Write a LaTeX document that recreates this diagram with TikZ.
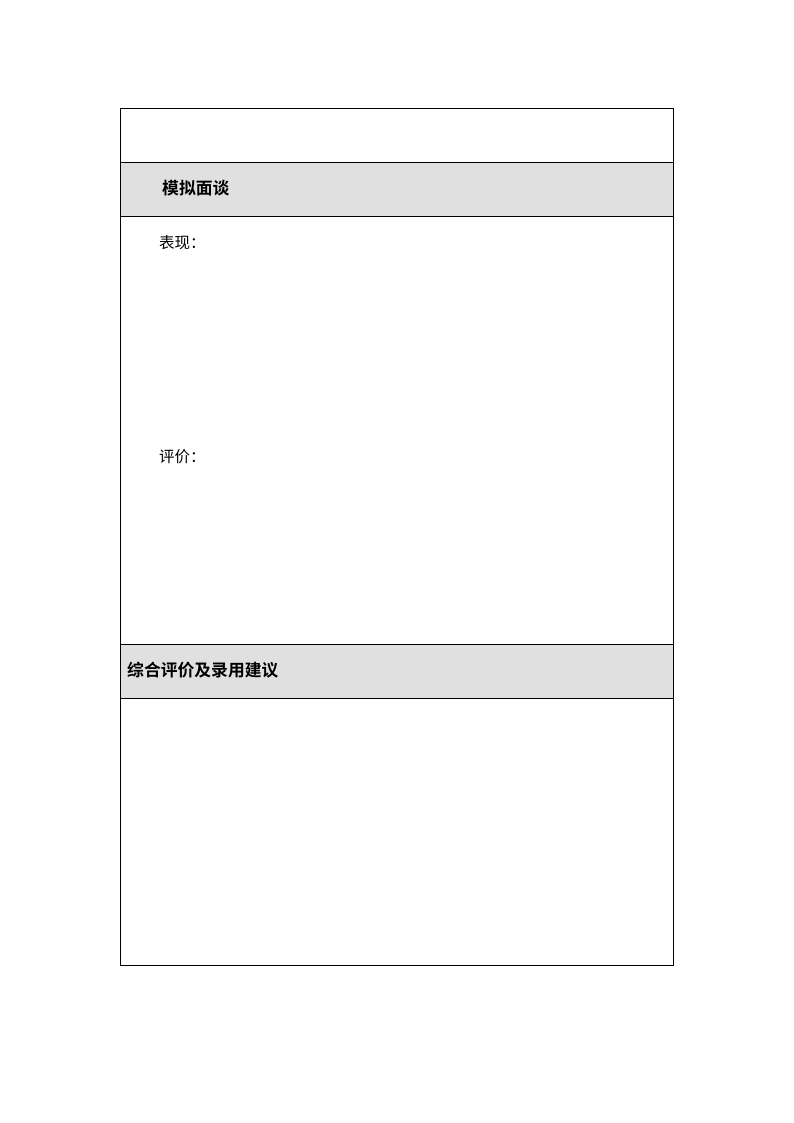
\documentclass[tikz,border=0pt]{standalone}
\usepackage{fontspec}
\newfontfamily\cjk{Noto Sans CJK SC}
\newfontfamily\cjkb{Noto Sans CJK SC Bold}
\definecolor{hdrgray}{HTML}{E0E0E0}
\begin{document}
\begin{tikzpicture}[x=1pt,y=-1pt,
  cell/.style={draw=black,line width=1pt},
  hdr/.style={cell,fill=hdrgray},
  lbl/.style={anchor=west,inner sep=0pt,font=\cjk\fontsize{15.5}{15.5}\selectfont},
  blbl/.style={anchor=west,inner sep=0pt,font=\cjkb\fontsize{16.8}{16.8}\selectfont}]
\useasboundingbox (0,0) rectangle (794,1123);
\fill[white] (0,0) rectangle (794,1123);
\draw[cell] (120.5,108.5) rectangle (673.5,162.5);
\draw[hdr] (120.5,162.5) rectangle (673.5,216.5);
\draw[cell] (120.5,216.5) rectangle (673.5,644.5);
\draw[hdr] (120.5,644.5) rectangle (673.5,698.5);
\draw[cell] (120.5,698.5) rectangle (673.5,965.5);
\node[blbl] (t1) at (162,188) {模拟面谈};
\node[lbl] (t2) at (159,243) {表现：};
\node[lbl] (t3) at (159,457) {评价：};
\node[blbl] (t4) at (127,670) {综合评价及录用建议};
\end{tikzpicture}
\end{document}
